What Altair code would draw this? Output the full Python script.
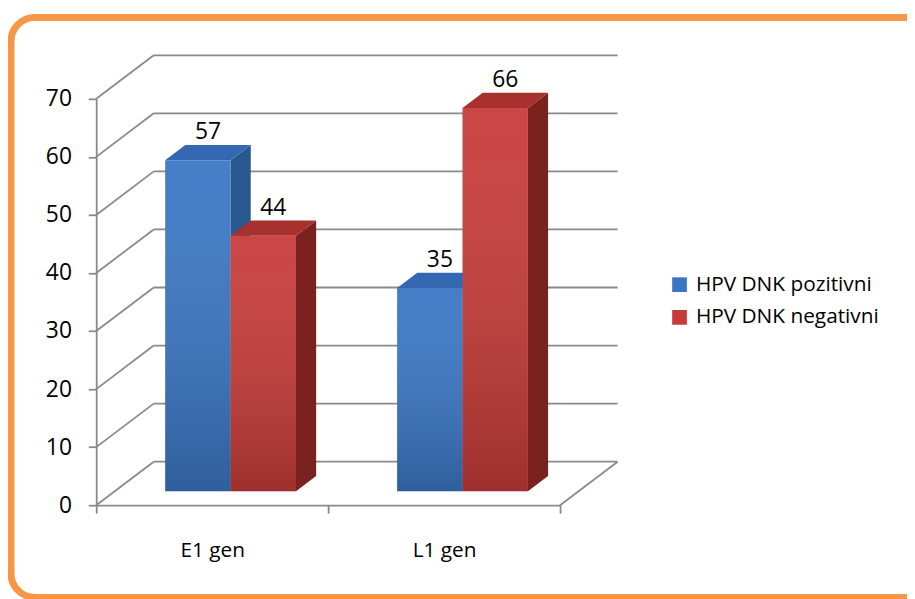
import json
import altair as alt
import pandas as pd

# ---------------- data ----------------
categories = ["E1 gen", "L1 gen"]
series_names = ["HPV DNK pozitivni", "HPV DNK negativni"]
pozitivni = [57, 35]
negativni = [44, 66]
y_ticks = [0, 10, 20, 30, 40, 50, 60, 70]
values_by_series = [pozitivni, negativni]

# ---------------- styles / geometry ----------------
FRONT = ["#3A76C4", "#C63B38"]
TOP = ["#3468B2", "#A8302E"]
SIDE = ["#29578F", "#7B2221"]
GRID = "#8A8A8A"
ORANGE = "#F79646"
FONT = "Open Sans"
FS = 21        # category / legend text
FS_NUM = 23    # numbers (axis and data labels)

DX, DY = 0.248, 7.5     # full depth of the 3-D box (x units, y units)
D0 = 0.32               # depth of bar front face (fraction of box depth)
T = 0.35                # bar thickness (fraction of box depth)
BAR_W = 0.282
GAP = 0.218
SX, SY = D0 * DX, D0 * DY
TX, TY = T * DX, T * DY
N = len(categories)

x_scale = alt.Scale(domain=[0, N], nice=False, zero=False)
y_scale = alt.Scale(domain=[0, 70], nice=False, zero=False)

label_expr = ("datum.value % 1 == 0.5 ? " + json.dumps(categories)
              + "[floor(datum.value)] : ''")
XAXIS = alt.Axis(values=[0, 0.5, 1, 1.5, 2], labelExpr=label_expr, title=None,
                 grid=False, domainColor=GRID, domainWidth=1.8, tickColor=GRID,
                 tickWidth=1.8, tickSize=8,
                 tickOpacity={"condition": {"test": "datum.value % 1 != 0", "value": 0}, "value": 1},
                 labelFont=FONT, labelFontSize=FS, labelColor="black",
                 labelPadding=27, labelOverlap=False, labelFlush=False, labelBound=False)
YAXIS = alt.Axis(values=y_ticks, title=None, grid=False, domainColor=GRID,
                 domainWidth=1.8, tickColor=GRID, tickWidth=1.8, tickSize=8,
                 labelFont=FONT, labelFontSize=FS_NUM, labelColor="black",
                 labelPadding=17)

def X(f):
    return alt.X(f, type="quantitative", scale=x_scale, axis=XAXIS)

def Y(f):
    return alt.Y(f, type="quantitative", scale=y_scale, axis=YAXIS)

# ---------------- build geometry tables ----------------
front, tops, sides, labels = [], [], [], []
for j, (sname, vals) in enumerate(zip(series_names, values_by_series)):
    for i, (cat, v) in enumerate(zip(categories, vals)):
        bid = f"{j}-{i}"
        x0 = i + GAP + j * BAR_W + SX
        x1 = x0 + BAR_W
        base = SY
        top = v + SY
        front.append(dict(series=sname, x=x0, x2=x1, y=base, y2=top))
        tops.append(dict(id=bid, c=TOP[j], y=top, x=x0, x2=x1))
        tops.append(dict(id=bid, c=TOP[j], y=top + TY, x=x0 + TX, x2=x1 + TX))
        sides.append(dict(id=bid, c=SIDE[j], x=x1, y=base, y2=top))
        sides.append(dict(id=bid, c=SIDE[j], x=x1 + TX, y=base + TY, y2=top + TY))
        labels.append(dict(x=(x0 + x1) / 2 + TX / 2, y=top + TY, t=str(v)))

grid_back = pd.DataFrame([dict(x=DX, x2=N + DX, y=v + DY, y2=v + DY) for v in y_ticks])
grid_diag = pd.DataFrame([dict(x=0, x2=DX, y=v, y2=v + DY) for v in y_ticks]
                         + [dict(x=N, x2=N + DX, y=0, y2=DY)])

grid_layer = alt.Chart(grid_back).mark_rule(color=GRID, strokeWidth=1.8).encode(
    x=X("x"), x2="x2", y=Y("y"), y2="y2")
diag_layer = alt.Chart(grid_diag).mark_rule(color=GRID, strokeWidth=1.8).encode(
    x=X("x"), x2="x2", y=Y("y"), y2="y2")

side_layer = alt.Chart(pd.DataFrame(sides)).mark_area().encode(
    x=X("x"), y=Y("y"), y2="y2", detail="id:N",
    fill=alt.Fill("c:N", scale=None))
top_layer = alt.Chart(pd.DataFrame(tops)).mark_area(orient="horizontal").encode(
    y=Y("y"), x=X("x"), x2="x2", detail="id:N",
    fill=alt.Fill("c:N", scale=None))

front_df = pd.DataFrame(front)
front_layer = alt.Chart(front_df).mark_rect().encode(
    x=X("x"), x2="x2", y=Y("y"), y2="y2",
    color=alt.Color("series:N", scale=alt.Scale(domain=series_names, range=FRONT),
                    legend=alt.Legend(orient="none", legendX=578, legendY=177,
                                      title=None, symbolType="square", symbolSize=220,
                                      symbolStrokeWidth=0, labelFont=FONT,
                                      labelFontSize=FS, labelColor="black",
                                      labelLimit=400, rowPadding=11, labelOffset=6)))
shade_layer = alt.Chart(front_df).mark_rect(
    fill={"x1": 0, "y1": 0, "x2": 0, "y2": 1, "gradient": "linear",
          "stops": [{"offset": 0, "color": "rgba(255,255,255,0.06)"},
                    {"offset": 1, "color": "rgba(0,0,0,0.20)"}]}).encode(
    x=X("x"), x2="x2", y=Y("y"), y2="y2")

label_layer = alt.Chart(pd.DataFrame(labels)).mark_text(
    font=FONT, fontSize=FS_NUM, color="black", baseline="alphabetic", dy=-6).encode(
    x=X("x"), y=Y("y"), text="t:N")

frame = alt.Chart(pd.DataFrame({"a": [0]})).mark_rect(
    fillOpacity=0, stroke=ORANGE, strokeWidth=7, cornerRadius=24).encode(
    x=alt.value(-86), x2=alt.value(860), y=alt.value(-82), y2=alt.value(503))

chart = alt.layer(
    frame, grid_layer, diag_layer, side_layer, top_layer, front_layer,
    shade_layer, label_layer
).properties(
    width=468, height=410,
    autosize=alt.AutoSizeParams(type="none"),
    padding={"left": 89, "top": 89, "right": 350, "bottom": 92},
    background="white",
).configure_view(stroke=None)

chart.save("out.html", embed_options={"renderer": "svg", "actions": False})
